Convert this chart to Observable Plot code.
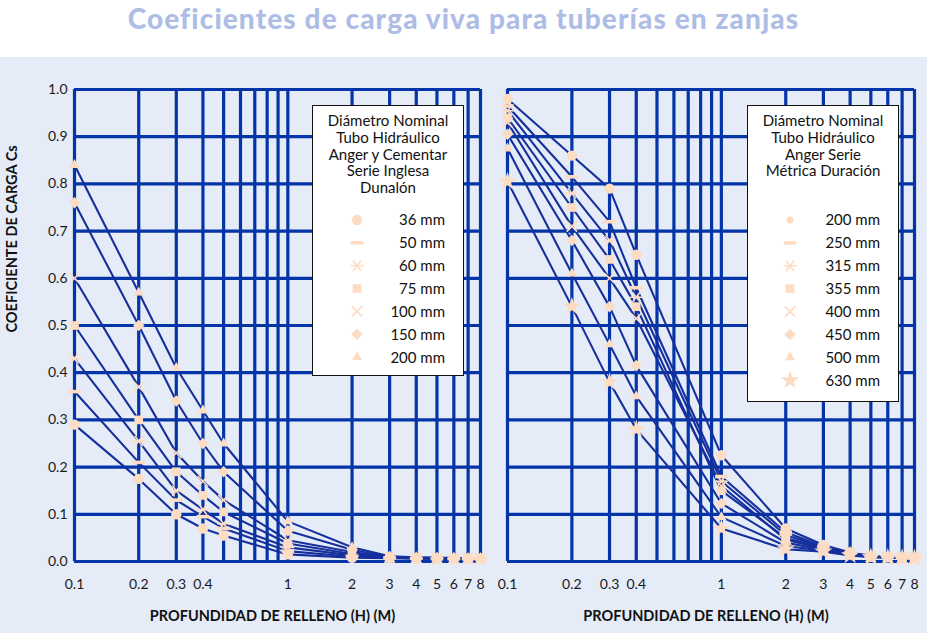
<!DOCTYPE html>
<html>
<head>
<meta charset="utf-8">
<script src="https://cdn.jsdelivr.net/npm/d3@7"></script>
<script src="https://cdn.jsdelivr.net/npm/@observablehq/plot@0.6"></script>
<style>
  html, body { margin: 0; padding: 0; background: #ffffff; }
  #root { position: relative; width: 927px; height: 633px; overflow: hidden; font-family: Lato, "Open Sans", sans-serif; }
  #title { position: absolute; left: 0; top: 0; width: 927px; height: 57px; background: #ffffff;
           text-align: center; font: 900 28px Lato, sans-serif; color: #aebde6; line-height: 36px; letter-spacing: 1.1px; }
  #band { position: absolute; left: 0; top: 57px; width: 927px; height: 576px; background: #e5ebf7; }
  .panel { position: absolute; top: 57px; }
  .legend { position: absolute; background: #ffffff; border: 1px solid #111; box-sizing: border-box; }
  .legend .lt { position: absolute; left: 0; right: 0; top: 6px; text-align: center; font: 15px Lato, sans-serif; line-height: 16.8px; color: #111; }
  .legend svg { position: absolute; left: 0; top: 0; }
</style>
</head>
<body>
<div id="root">
  <div id="title"></div>
  <div id="band"></div>
</div>
<script>
// ---------------- DATA ----------------
const TITLE = "Coeficientes de carga viva para tuberías en zanjas";
const X_LABEL = "PROFUNDIDAD DE RELLENO (H) (M)";
const Y_LABEL = "COEFICIENTE DE CARGA Cs";

const X_TICKS = [0.1, 0.2, 0.3, 0.4, 1, 2, 3, 4, 5, 6, 7, 8];
const X_GRID = [0.1, 0.2, 0.3, 0.4, 0.5, 0.6, 0.7, 0.8, 0.9, 1, 2, 3, 4, 5, 6, 7, 8];
const Y_TICKS = [0, 0.1, 0.2, 0.3, 0.4, 0.5, 0.6, 0.7, 0.8, 0.9, 1.0];

// Left panel: Serie Inglesa Dunalón
const LEFT_TITLE = ["Diámetro Nominal", "Tubo Hidráulico", "Anger y Cementar", "Serie Inglesa", "Dunalón"];
const LEFT_NAMES = ["36 mm", "50 mm", "60 mm", "75 mm", "100 mm", "150 mm", "200 mm"];
const LEFT_X = [0.1, 0.2, 0.3, 0.4, 0.5, 1, 2, 3, 4, 5, 6, 7, 8];
const L_36  = [0.29, 0.175, 0.10, 0.07, 0.055, 0.015, 0.008, 0.007, 0.006, 0.006, 0.006, 0.006, 0.006];
const L_50  = [0.36, 0.21, 0.13, 0.095, 0.07, 0.022, 0.010, 0.008, 0.007, 0.006, 0.006, 0.006, 0.006];
const L_60  = [0.43, 0.255, 0.15, 0.11, 0.08, 0.030, 0.013, 0.008, 0.007, 0.007, 0.006, 0.006, 0.006];
const L_75  = [0.50, 0.30, 0.19, 0.14, 0.105, 0.038, 0.016, 0.009, 0.007, 0.007, 0.007, 0.006, 0.006];
const L_100 = [0.60, 0.37, 0.23, 0.17, 0.13, 0.045, 0.020, 0.009, 0.008, 0.007, 0.007, 0.007, 0.006];
const L_150 = [0.76, 0.50, 0.34, 0.25, 0.19, 0.065, 0.025, 0.010, 0.008, 0.008, 0.007, 0.007, 0.007];
const L_200 = [0.84, 0.57, 0.41, 0.32, 0.25, 0.085, 0.030, 0.011, 0.009, 0.008, 0.008, 0.007, 0.007];

// Right panel: Serie Métrica Duración
const RIGHT_TITLE = ["Diámetro Nominal", "Tubo Hidráulico", "Anger Serie", "Métrica Duración"];
const RIGHT_NAMES = ["200 mm", "250 mm", "315 mm", "355 mm", "400 mm", "450 mm", "500 mm", "630 mm"];
const RIGHT_X = [0.1, 0.2, 0.3, 0.4, 1, 2, 3, 4, 5, 6, 7, 8];
const R_200 = [0.98, 0.86, 0.79, 0.65, 0.225, 0.070, 0.035, 0.019, 0.012, 0.010, 0.009, 0.008];
const R_250 = [0.965, 0.815, 0.72, 0.58, 0.18, 0.062, 0.032, 0.018, 0.011, 0.010, 0.009, 0.008];
const R_315 = [0.955, 0.78, 0.68, 0.56, 0.17, 0.056, 0.030, 0.017, 0.011, 0.009, 0.008, 0.008];
const R_355 = [0.94, 0.75, 0.64, 0.54, 0.15, 0.050, 0.029, 0.016, 0.010, 0.009, 0.008, 0.008];
const R_400 = [0.93, 0.71, 0.60, 0.515, 0.16, 0.046, 0.027, 0.016, 0.010, 0.009, 0.008, 0.007];
const R_450 = [0.905, 0.68, 0.54, 0.415, 0.123, 0.040, 0.025, 0.015, 0.010, 0.009, 0.008, 0.007];
const R_500 = [0.875, 0.61, 0.46, 0.35, 0.094, 0.033, 0.023, 0.014, 0.010, 0.008, 0.008, 0.007];
const R_630 = [0.805, 0.54, 0.38, 0.28, 0.070, 0.026, 0.021, 0.013, 0.009, 0.008, 0.007, 0.007];

// ---------------- STYLE ----------------
const GRID = "#0335a8";
const LINE = "#15309c";
const MARK = "#fddcc4";

const dashSym = { draw(ctx, size) { const r = Math.sqrt(size / Math.PI); ctx.rect(-r * 1.25, -r * 0.36, r * 2.5, r * 0.72); } };
const astSym = { draw(ctx, size) { const r = Math.sqrt(size / Math.PI); const a = r * 0.62, b = r * 0.8;
  ctx.moveTo(-r, 0); ctx.lineTo(r, 0); ctx.moveTo(-a, -b); ctx.lineTo(a, b); ctx.moveTo(-a, b); ctx.lineTo(a, -b); } };
const timesSym = { draw(ctx, size) { const r = Math.sqrt(size / Math.PI) * 0.95;
  ctx.moveTo(-r, -r); ctx.lineTo(r, r); ctx.moveTo(-r, r); ctx.lineTo(r, -r); } };

const SYM = {
  circle:   { symbol: "circle",   r: 5.2, filled: true },
  dash:     { symbol: dashSym,    r: 5,   filled: true },
  asterisk: { symbol: astSym,     r: 6.5, filled: false },
  square:   { symbol: "square",   r: 4.9, filled: true },
  times:    { symbol: timesSym,   r: 5.5, filled: false },
  diamond:  { symbol: "diamond2", r: 5.2, filled: true },
  triangle: { symbol: "triangle", r: 3.8, filled: true },
  star:     { symbol: "star",     r: 5.8, filled: true }
};
const LEFT_SYMS = [SYM.circle, SYM.dash, SYM.asterisk, SYM.square, SYM.times, SYM.diamond, SYM.triangle];
const RIGHT_SYMS = [SYM.circle, SYM.dash, SYM.asterisk, SYM.square, SYM.times, SYM.diamond, SYM.triangle, SYM.star];

document.getElementById("title").textContent = TITLE;

function buildPanel({ xs, names, values, syms, width, marginLeft, marginRight, showY, labelDx }) {
  const data = names.flatMap((n, i) => xs.map((x, j) => ({ series: n, x, y: values[i][j] })));
  const marks = [
    Plot.ruleX(X_GRID, { stroke: GRID, strokeWidth: 3.2 }),
    Plot.ruleY(Y_TICKS, { stroke: GRID, strokeWidth: 3.2 }),
    Plot.line(data, { x: "x", y: "y", z: "series", stroke: LINE, strokeWidth: 2.1 }),
    ...names.map((n, i) => {
      const s = syms[i];
      return Plot.dot(data.filter(d => d.series === n), {
        x: "x", y: "y", symbol: s.symbol, r: s.r,
        fill: s.filled ? MARK : "none", stroke: s.filled ? "none" : MARK, strokeWidth: s.filled ? 0 : 1.6
      });
    }),
    // x tick labels drawn through the x scale
    Plot.text(X_TICKS, { x: d => d, frameAnchor: "bottom", dy: 27, text: d => String(d), fontSize: 14, fill: "#1a1a1a" }),
    Plot.text([X_LABEL], { frameAnchor: "bottom", dy: 59, dx: labelDx, fontWeight: "bold", fontSize: 14.5, fill: "#111" })
  ];
  if (showY) {
    marks.push(Plot.axisY({ ticks: Y_TICKS, tickFormat: d3.format(".1f"), tickSize: 0, tickPadding: 7, fontSize: 14, label: null, fill: "#1a1a1a" }));
    marks.push(Plot.text([Y_LABEL], { frameAnchor: "left", rotate: -90, dx: -62, dy: 7, fontWeight: "bold", fontSize: 14.5, fill: "#111" }));
  }
  return Plot.plot({
    width, height: 576,
    marginLeft, marginRight, marginTop: 32, marginBottom: 72,
    x: { type: "log", domain: [0.1, 8], axis: null },
    y: { domain: [0, 1], axis: null },
    style: { background: "transparent", fontFamily: "Lato, sans-serif", overflow: "visible" },
    marks
  });
}

function buildLegend({ left, top, width, height, titleLines, names, syms, symX, labelX, rowY0, rowStep, circleR }) {
  const box = document.createElement("div");
  box.className = "legend";
  Object.assign(box.style, { left: left + "px", top: top + "px", width: width + "px", height: height + "px" });
  const t = document.createElement("div");
  t.className = "lt";
  t.innerHTML = titleLines.join("<br>");
  box.appendChild(t);
  const svg = d3.create("svg").attr("width", width).attr("height", height);
  names.forEach((n, i) => {
    const s = syms[i];
    const y = rowY0 + i * rowStep;
    const r = (s.symbol === "circle" && circleR) ? circleR : s.r;
    const type = typeof s.symbol === "string"
      ? { circle: d3.symbolCircle, square: d3.symbolSquare, diamond2: d3.symbolDiamond2, triangle: d3.symbolTriangle, star: d3.symbolStar }[s.symbol]
      : s.symbol;
    svg.append("path")
      .attr("transform", `translate(${symX},${y})`)
      .attr("d", d3.symbol(type, Math.PI * r * r)())
      .attr("fill", s.filled ? MARK : "none")
      .attr("stroke", s.filled ? "none" : MARK)
      .attr("stroke-width", s.filled ? 0 : 1.6);
    svg.append("text")
      .attr("x", labelX).attr("y", y).attr("dy", "0.36em")
      .attr("text-anchor", "end")
      .attr("font-family", "Lato, sans-serif").attr("font-size", 15).attr("fill", "#111")
      .text(n);
  });
  box.appendChild(svg.node());
  return box;
}

const root = document.getElementById("root");

const left = buildPanel({
  xs: LEFT_X, names: LEFT_NAMES, values: [L_36, L_50, L_60, L_75, L_100, L_150, L_200], syms: LEFT_SYMS,
  width: 490, marginLeft: 74, marginRight: 10, showY: true, labelDx: -5
});
left.classList.add("panel"); left.style.left = "0px";
root.appendChild(left);

const right = buildPanel({
  xs: RIGHT_X, names: RIGHT_NAMES, values: [R_200, R_250, R_315, R_355, R_400, R_450, R_500, R_630], syms: RIGHT_SYMS,
  width: 437, marginLeft: 17, marginRight: 13, showY: false, labelDx: -5
});
right.classList.add("panel"); right.style.left = "490px";
root.appendChild(right);

root.appendChild(buildLegend({
  left: 312, top: 105, width: 152, height: 271, titleLines: LEFT_TITLE, names: LEFT_NAMES, syms: LEFT_SYMS,
  symX: 44, labelX: 132, rowY0: 114, rowStep: 22.85
}));
root.appendChild(buildLegend({
  left: 747, top: 105, width: 152, height: 297, titleLines: RIGHT_TITLE, names: RIGHT_NAMES, syms: RIGHT_SYMS,
  symX: 42, labelX: 132, rowY0: 114, rowStep: 22.9, circleR: 3.6
}));
</script>
</body>
</html>
